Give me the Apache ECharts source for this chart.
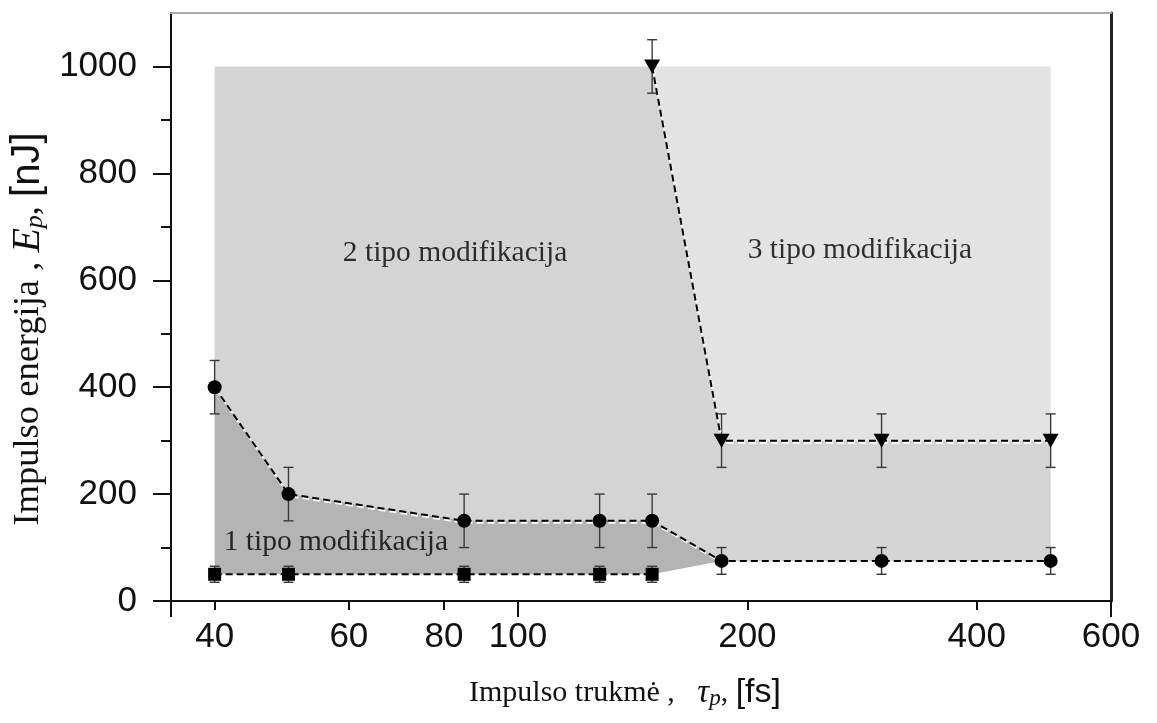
<!DOCTYPE html>
<html>
<head>
    <meta charset="utf-8">
    <title>Modifikacijų tipai</title>
    <script src="https://cdn.jsdelivr.net/npm/echarts@6/dist/echarts.min.js"></script>
</head>
<body style="margin:0">
    <div id="main" style="width:1157px;height:723px;"></div>
    <script type="text/javascript">
        // ašių žymės
        const xTicks = [40, 60, 80, 100, 200, 400, 600];
        const xMajor = [100, 600];
        const xRange = [35.06, 600];
        const yTicks = [0, 200, 400, 600, 800, 1000];
        const yMinor = [100, 300, 500, 700, 900];

        // kvadratai (apatinė riba)
        const sqTau = [40, 50, 85, 128, 150];
        const sqE = [50, 50, 50, 50, 50];
        const sqErr = [15, 15, 15, 15, 15];

        // skrituliai
        const ciTau = [40, 50, 85, 128, 150, 185, 300, 500];
        const ciE = [400, 200, 150, 150, 150, 75, 75, 75];
        const ciErr = [50, 50, 50, 50, 50, 25, 25, 25];

        // trikampiai
        const trTau = [150, 185, 300, 500];
        const trE = [1000, 300, 300, 300];
        const trErr = [50, 50, 50, 50];

        // sričių pavadinimai
        const regionNames = ['1 tipo modifikacija', '2 tipo modifikacija', '3 tipo modifikacija'];
        const regionTau = [57.7, 82.7, 281];
        const regionE = [110, 650, 656];

        const lg = Math.log;
        const sp = '\u00a0';
        const pts = (tau, e) => tau.map((t, i) => [t, e[i]]);
        const sq = pts(sqTau, sqE);
        const ci = pts(ciTau, ciE);
        const tr = pts(trTau, trE);
        const topE = trE[0];
        const lastTau = trTau[trTau.length - 1];

        // sritys: šviesi (3), vidutinė (2), tamsi (1)
        const regions = [
            tr.concat([[lastTau, topE]]),
            [[ciTau[0], topE]].concat(tr, ci.slice().reverse()),
            ci.filter(p => p[0] <= trTau[1]).concat(sq.slice().reverse())
        ];
        const regionColors = ['#e3e3e3', '#d4d4d4', '#b4b4b4'];

        const errData = (tau, e, err) => tau.map((t, i) => [lg(t), e[i] - err[i], e[i] + err[i]]);

        var myChart = echarts.init(document.getElementById('main'));

        const serif = 'Liberation Serif';
        const sans = 'Liberation Sans';
        const xBase = {
            type: 'value', min: lg(xRange[0]), max: lg(xRange[1]), position: 'bottom',
            splitLine: { show: false }, axisLine: { show: false }, axisTick: { show: false }, axisLabel: { show: false }
        };
        const yBase = {
            type: 'value', min: 0, max: 1100, position: 'left',
            splitLine: { show: false }, axisLine: { show: false }, axisTick: { show: false }, axisLabel: { show: false }
        };
        const dashed = {
            color: '#000', width: 2, type: [7, 4],
            shadowColor: 'rgba(255,255,255,0.95)', shadowBlur: 0, shadowOffsetX: 1, shadowOffsetY: 2
        };

        var option = {
            animation: false,
            backgroundColor: '#fff',
            grid: { left: 171, right: 46, top: 13, bottom: 122, containLabel: false, outerBoundsMode: 'none' },
            xAxis: [
                Object.assign({}, xBase, {
                    axisLine: { show: true, onZero: false, lineStyle: { color: '#111', width: 2 } },
                    axisTick: { show: true, length: 9, customValues: xTicks.map(lg), lineStyle: { color: '#111', width: 2 } },
                    axisLabel: {
                        show: true, customValues: xTicks.map(lg), margin: 19,
                        formatter: v => String(Math.round(Math.exp(v))),
                        fontFamily: sans, fontSize: 35, color: '#111'
                    },
                    name: '{s|Impulso trukmė ,' + sp + sp + sp + '}{m|τ}{sub|p}{s|,' + sp + '}{a|[fs]}',
                    nameLocation: 'middle', nameGap: 75,
                    nameTextStyle: {
                        padding: [0, 32, 0, 0],
                        rich: {
                            s: { fontFamily: serif, fontSize: 30, color: '#111' },
                            m: { fontFamily: serif, fontStyle: 'italic', fontSize: 33, color: '#111' },
                            sub: { fontFamily: serif, fontStyle: 'italic', fontSize: 23, color: '#111', verticalAlign: 'bottom', lineHeight: 22 },
                            a: { fontFamily: sans, fontSize: 34, color: '#111' }
                        }
                    }
                }),
                Object.assign({}, xBase, {
                    axisTick: { show: true, length: 16, customValues: [lg(xRange[0])].concat(xMajor.map(lg)), lineStyle: { color: '#111', width: 2 } }
                }),
                Object.assign({}, xBase, {
                    position: 'top',
                    axisLine: { show: true, onZero: false, lineStyle: { color: '#aaa', width: 2 } }
                })
            ],
            yAxis: [
                Object.assign({}, yBase, {
                    axisLine: { show: true, onZero: false, lineStyle: { color: '#111', width: 2 } },
                    axisTick: { show: true, length: 18, customValues: yTicks, lineStyle: { color: '#111', width: 2 } },
                    axisLabel: {
                        show: true, customValues: yTicks, margin: 34, formatter: v => String(v),
                        fontFamily: sans, fontSize: 35, color: '#111'
                    },
                    name: '{s|Impulso energija ,' + sp + '}{m|E}{sub|p}{s|,' + sp + '}{a|[nJ]}',
                    nameLocation: 'middle', nameGap: 97,
                    nameTextStyle: {
                        padding: [0, 44, 0, 0],
                        rich: {
                            s: { fontFamily: serif, fontSize: 36.5, color: '#111' },
                            m: { fontFamily: serif, fontStyle: 'italic', fontSize: 40, color: '#111' },
                            sub: { fontFamily: serif, fontStyle: 'italic', fontSize: 26, color: '#111', verticalAlign: 'bottom', lineHeight: 24 },
                            a: { fontFamily: sans, fontSize: 40, color: '#111' }
                        }
                    }
                }),
                Object.assign({}, yBase, {
                    axisTick: { show: true, length: 10, customValues: yMinor, lineStyle: { color: '#111', width: 2 } }
                }),
                Object.assign({}, yBase, {
                    position: 'right',
                    axisLine: { show: true, onZero: false, lineStyle: { color: '#222', width: 3 } }
                })
            ],
            series: [
                {
                    // užpildytos sritys
                    type: 'custom', z: 1, silent: true,
                    data: regions.map(() => [lg(xRange[0]), 0]),
                    renderItem: function (params, api) {
                        const poly = regions[params.dataIndex].map(p => api.coord([lg(p[0]), p[1]]));
                        return { type: 'polygon', shape: { points: poly }, style: { fill: regionColors[params.dataIndex] } };
                    }
                },
                {
                    // paklaidos
                    type: 'custom', z: 3, silent: true,
                    data: errData(sqTau, sqE, sqErr).concat(errData(ciTau, ciE, ciErr), errData(trTau, trE, trErr)),
                    renderItem: function (params, api) {
                        const lo = api.coord([api.value(0), api.value(1)]);
                        const hi = api.coord([api.value(0), api.value(2)]);
                        const w = 5;
                        const st = { stroke: '#3a3a3a', lineWidth: 1.4 };
                        return {
                            type: 'group', children: [
                                { type: 'line', shape: { x1: hi[0], y1: hi[1], x2: lo[0], y2: lo[1] }, style: st },
                                { type: 'line', shape: { x1: hi[0] - w, y1: hi[1], x2: hi[0] + w, y2: hi[1] }, style: st },
                                { type: 'line', shape: { x1: lo[0] - w, y1: lo[1], x2: lo[0] + w, y2: lo[1] }, style: st }
                            ]
                        };
                    }
                },
                {
                    type: 'line', z: 4,
                    data: sq.map(p => [lg(p[0]), p[1]]),
                    symbol: 'rect', symbolSize: 13,
                    itemStyle: { color: '#000' },
                    lineStyle: dashed
                },
                {
                    type: 'line', z: 4,
                    data: ci.map(p => [lg(p[0]), p[1]]),
                    symbol: 'circle', symbolSize: 14,
                    itemStyle: { color: '#000' },
                    lineStyle: dashed
                },
                {
                    type: 'line', z: 4,
                    data: tr.map(p => [lg(p[0]), p[1]]),
                    symbol: 'triangle', symbolRotate: 180, symbolSize: [16, 14],
                    itemStyle: { color: '#000' },
                    lineStyle: dashed
                },
                {
                    type: 'scatter', z: 5, silent: true, symbolSize: 0,
                    data: regionNames.map((n, i) => ({ name: n, value: [lg(regionTau[i]), regionE[i]] })),
                    label: { show: true, position: 'inside', formatter: '{b}', fontFamily: serif, fontSize: 29.5, color: '#000' }
                }
            ]
        };
        myChart.setOption(option);
    </script>
</body>
</html>
